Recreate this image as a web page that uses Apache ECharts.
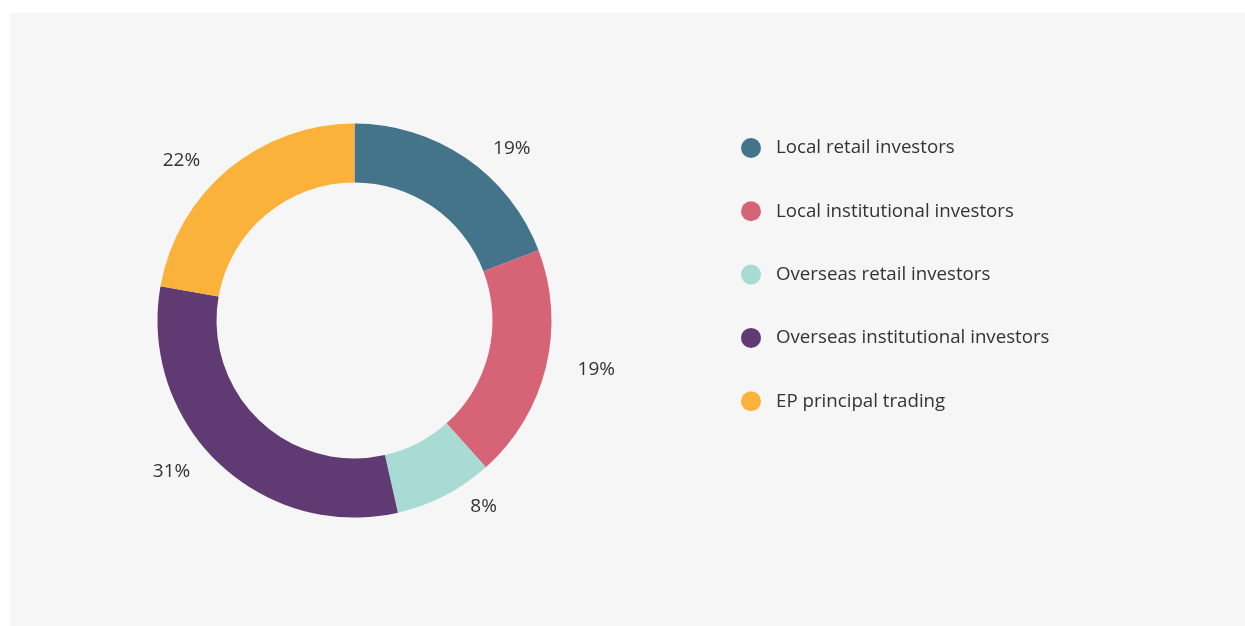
<!doctype html>
<html lang="en">
<head>
    <meta charset="UTF-8">
    <title>Investor breakdown</title>
    <style>
        html, body { margin: 0; padding: 0; background: #ffffff; }
        #main {
            position: absolute;
            left: 10px;
            top: 13px;
            width: 1235px;
            height: 613px;
            background: #f6f6f6;
        }
    </style>
    <script src="https://cdn.jsdelivr.net/npm/echarts@6/dist/echarts.min.js"></script>
</head>
<body>
    <div id="main"></div>
    <script>
        // categories and shares (%)
        var categories = ['Local retail investors', 'Local institutional investors', 'Overseas retail investors', 'Overseas institutional investors', 'EP principal trading'];
        var shares = [19, 19, 8, 31, 22];
        var colors = ['#44748a', '#d66476', '#a8dbd4', '#603a72', '#fbb23a'];

        window.onload = function () {
            var myChart = echarts.init(document.getElementById('main'));
            var pieData = categories.map(function (name, i) {
                return { name: name, value: shares[i] };
            });
            var option = {
                animation: false,
                color: colors,
                textStyle: { fontFamily: 'Open Sans' },
                legend: {
                    orient: 'vertical',
                    left: 726,
                    top: 120,
                    icon: 'circle',
                    itemWidth: 20,
                    itemHeight: 20,
                    itemGap: 43.3,
                    selectedMode: false,
                    textStyle: {
                        fontFamily: 'Open Sans',
                        fontSize: 18.7,
                        color: '#333333',
                        padding: [0, 0, 0, 10]
                    },
                    data: categories
                },
                series: [
                    {
                        type: 'pie',
                        center: [344.5, 307.5],
                        radius: [138, 197],
                        startAngle: 90,
                        clockwise: true,
                        avoidLabelOverlap: false,
                        silent: true,
                        label: {
                            show: true,
                            position: 'outside',
                            formatter: '{c}%',
                            fontFamily: 'Open Sans',
                            fontSize: 19,
                            color: '#333333',
                            distanceToLabelLine: 5
                        },
                        labelLine: {
                            show: false,
                            length: 12,
                            length2: 15
                        },
                        data: pieData
                    }
                ]
            };
            myChart.setOption(option);
        };
    </script>
</body>
</html>
